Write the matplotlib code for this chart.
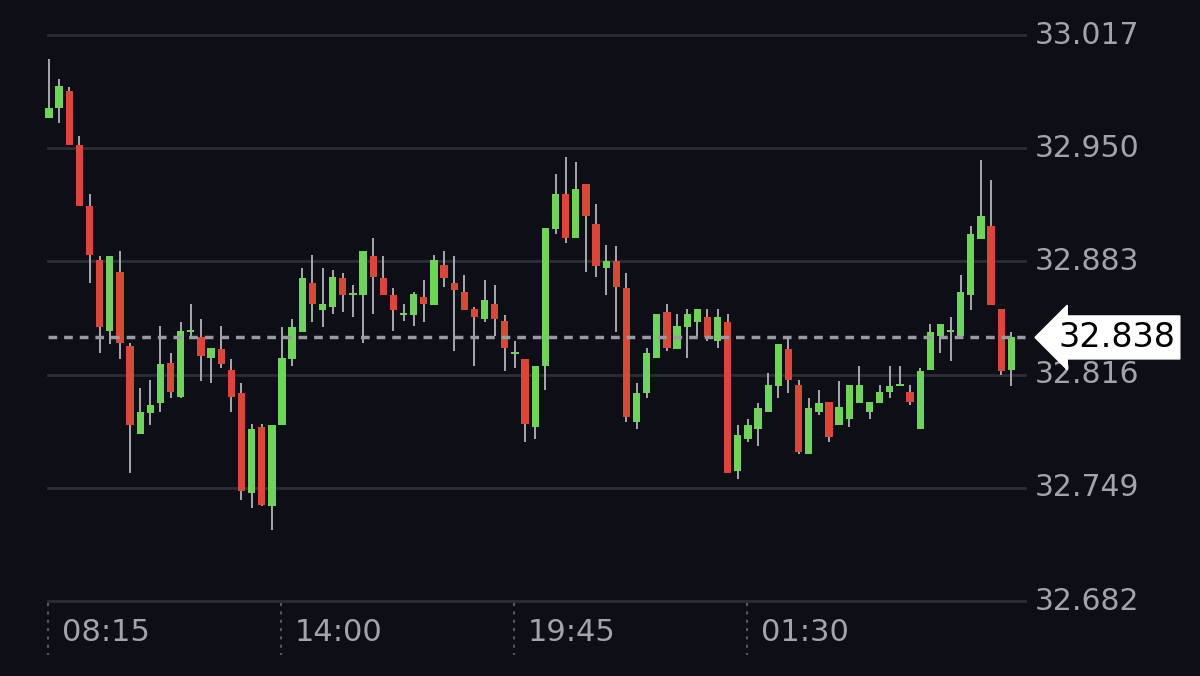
import numpy as np
import matplotlib
matplotlib.use("Agg")
import matplotlib.pyplot as plt

# 15 minute candles
opens = [32.968, 32.974, 32.984, 32.952, 32.916, 32.884, 32.842, 32.877, 32.833, 32.781, 32.793, 32.799,
         32.823, 32.803, 32.841, 32.838, 32.826, 32.831, 32.819, 32.805, 32.746, 32.785, 32.738, 32.786,
         32.825, 32.841, 32.870, 32.854, 32.856, 32.873, 32.863, 32.863, 32.886, 32.873, 32.863, 32.851,
         32.851, 32.862, 32.857, 32.881, 32.870, 32.865, 32.855, 32.849, 32.858, 32.848, 32.828, 32.825,
         32.785, 32.821, 32.902, 32.923, 32.897, 32.929, 32.905, 32.879, 32.883, 32.867, 32.788, 32.805,
         32.826, 32.853, 32.831, 32.844, 32.847, 32.850, 32.836, 32.847, 32.759, 32.778, 32.784, 32.794,
         32.809, 32.831, 32.810, 32.769, 32.794, 32.800, 32.786, 32.790, 32.799, 32.794, 32.799, 32.806,
         32.809, 32.806, 32.784, 32.819, 32.839, 32.841, 32.839, 32.863, 32.896, 32.904, 32.855, 32.819]
closes = [32.974, 32.987, 32.952, 32.916, 32.887, 32.844, 32.886, 32.835, 32.786, 32.794, 32.798, 32.822,
          32.806, 32.842, 32.841, 32.827, 32.832, 32.822, 32.803, 32.747, 32.784, 32.739, 32.786, 32.826,
          32.844, 32.873, 32.858, 32.858, 32.874, 32.863, 32.863, 32.889, 32.874, 32.863, 32.854, 32.851,
          32.864, 32.858, 32.884, 32.873, 32.866, 32.854, 32.850, 32.860, 32.849, 32.832, 32.828, 32.787,
          32.821, 32.903, 32.923, 32.897, 32.926, 32.910, 32.880, 32.883, 32.868, 32.791, 32.805, 32.829,
          32.852, 32.832, 32.845, 32.852, 32.855, 32.838, 32.850, 32.758, 32.780, 32.786, 32.796, 32.810,
          32.834, 32.813, 32.770, 32.796, 32.799, 32.779, 32.797, 32.810, 32.810, 32.800, 32.806, 32.809,
          32.810, 32.800, 32.818, 32.841, 32.846, 32.841, 32.865, 32.899, 32.910, 32.857, 32.818, 32.838]
highs = [33.003, 32.991, 32.986, 32.957, 32.923, 32.886, 32.886, 32.889, 32.835, 32.808, 32.813, 32.845,
         32.829, 32.847, 32.858, 32.849, 32.832, 32.845, 32.825, 32.811, 32.787, 32.787, 32.786, 32.844,
         32.849, 32.879, 32.887, 32.879, 32.878, 32.876, 32.869, 32.889, 32.897, 32.886, 32.867, 32.858,
         32.865, 32.872, 32.887, 32.889, 32.886, 32.875, 32.856, 32.872, 32.869, 32.851, 32.836, 32.825,
         32.821, 32.903, 32.935, 32.945, 32.942, 32.929, 32.917, 32.893, 32.892, 32.876, 32.811, 32.832,
         32.852, 32.858, 32.852, 32.855, 32.855, 32.855, 32.855, 32.852, 32.786, 32.790, 32.799, 32.817,
         32.834, 32.838, 32.813, 32.802, 32.807, 32.800, 32.812, 32.810, 32.821, 32.800, 32.810, 32.821,
         32.821, 32.810, 32.820, 32.846, 32.846, 32.850, 32.875, 32.904, 32.943, 32.931, 32.855, 32.841]
lows = [32.968, 32.965, 32.952, 32.916, 32.870, 32.829, 32.834, 32.825, 32.758, 32.781, 32.786, 32.794,
        32.802, 32.802, 32.838, 32.812, 32.811, 32.820, 32.794, 32.742, 32.737, 32.738, 32.724, 32.786,
        32.821, 32.841, 32.847, 32.844, 32.852, 32.853, 32.850, 32.835, 32.852, 32.863, 32.842, 32.848,
        32.845, 32.847, 32.857, 32.868, 32.830, 32.854, 32.821, 32.847, 32.839, 32.818, 32.820, 32.776,
        32.778, 32.807, 32.899, 32.894, 32.897, 32.877, 32.874, 32.863, 32.841, 32.788, 32.784, 32.802,
        32.826, 32.830, 32.831, 32.826, 32.839, 32.836, 32.832, 32.758, 32.754, 32.776, 32.774, 32.794,
        32.802, 32.805, 32.769, 32.769, 32.792, 32.776, 32.786, 32.785, 32.799, 32.790, 32.799, 32.802,
        32.809, 32.798, 32.784, 32.819, 32.829, 32.824, 32.839, 32.854, 32.896, 32.857, 32.816, 32.809]

price_ticks = [33.017, 32.950, 32.883, 32.816, 32.749, 32.682]
time_labels = ["08:15", "14:00", "19:45", "01:30"]
time_idx = [0, 23, 46, 69]
last_price = 32.838

bg = "#0d0e16"
up_col = "#6fd25b"
down_col = "#d9473a"
wick_col = "#b4b4b8"
label_col = "#a3a3a9"

fig = plt.figure(figsize=(12, 6.76), dpi=100)
fig.patch.set_facecolor(bg)
ax = fig.add_axes([0, 0, 1, 1])
ax.set_facecolor(bg)
ax.axis("off")

step = 10.13  # pixels per candle
px_per_unit = 1689.6
ax.set_xlim(-49 / step, (1200 - 49) / step)
ax.set_ylim(33.017 - 641 / px_per_unit, 33.017 + 35 / px_per_unit)

# grid lines + labels
for p in price_ticks:
    ax.plot([-0.1, 96.3], [p, p], color="#2c2d35", lw=2, zorder=1)
    ax.text(97.3, p, f"{p:.3f}", color=label_col, fontsize=21.5, va="center", ha="left")

# time axis
y_lab = 33.017 - 597 / px_per_unit
for i, lab in zip(time_idx, time_labels):
    ax.plot([i - 0.1, i - 0.1], [33.017 - 568 / px_per_unit, 33.017 - 620 / px_per_unit],
            color="#55565e", lw=1.5, ls=(0, (1.5, 2.5)), zorder=1)
    ax.text(i + 1.3, y_lab, lab, color=label_col, fontsize=22, va="center", ha="left")

# candles
x = np.arange(len(opens))
o = np.array(opens); c = np.array(closes); h = np.array(highs); l = np.array(lows)
ax.vlines(x, l, h, color=wick_col, lw=1.3, zorder=2)
up = c >= o
cols = np.where(up, up_col, down_col)
body_bottom = np.minimum(o, c)
body_h = np.maximum(np.abs(c - o), 0.0012)
ax.bar(x, body_h, bottom=body_bottom, width=0.72, color=cols, zorder=3)

# last price line and tag
ax.plot([-0.1, 96.3], [last_price, last_price], color="#9a9aa0", lw=2.5,
        ls=(0, (2.5, 2)), zorder=4)
ax.text(99.6, last_price, f"{last_price:.3f}", color="black", fontsize=24, va="center", ha="left",
        zorder=6, bbox=dict(boxstyle="larrow,pad=0.15", fc="white", ec="white"))

fig.savefig("out.png", dpi=100, facecolor=bg)
